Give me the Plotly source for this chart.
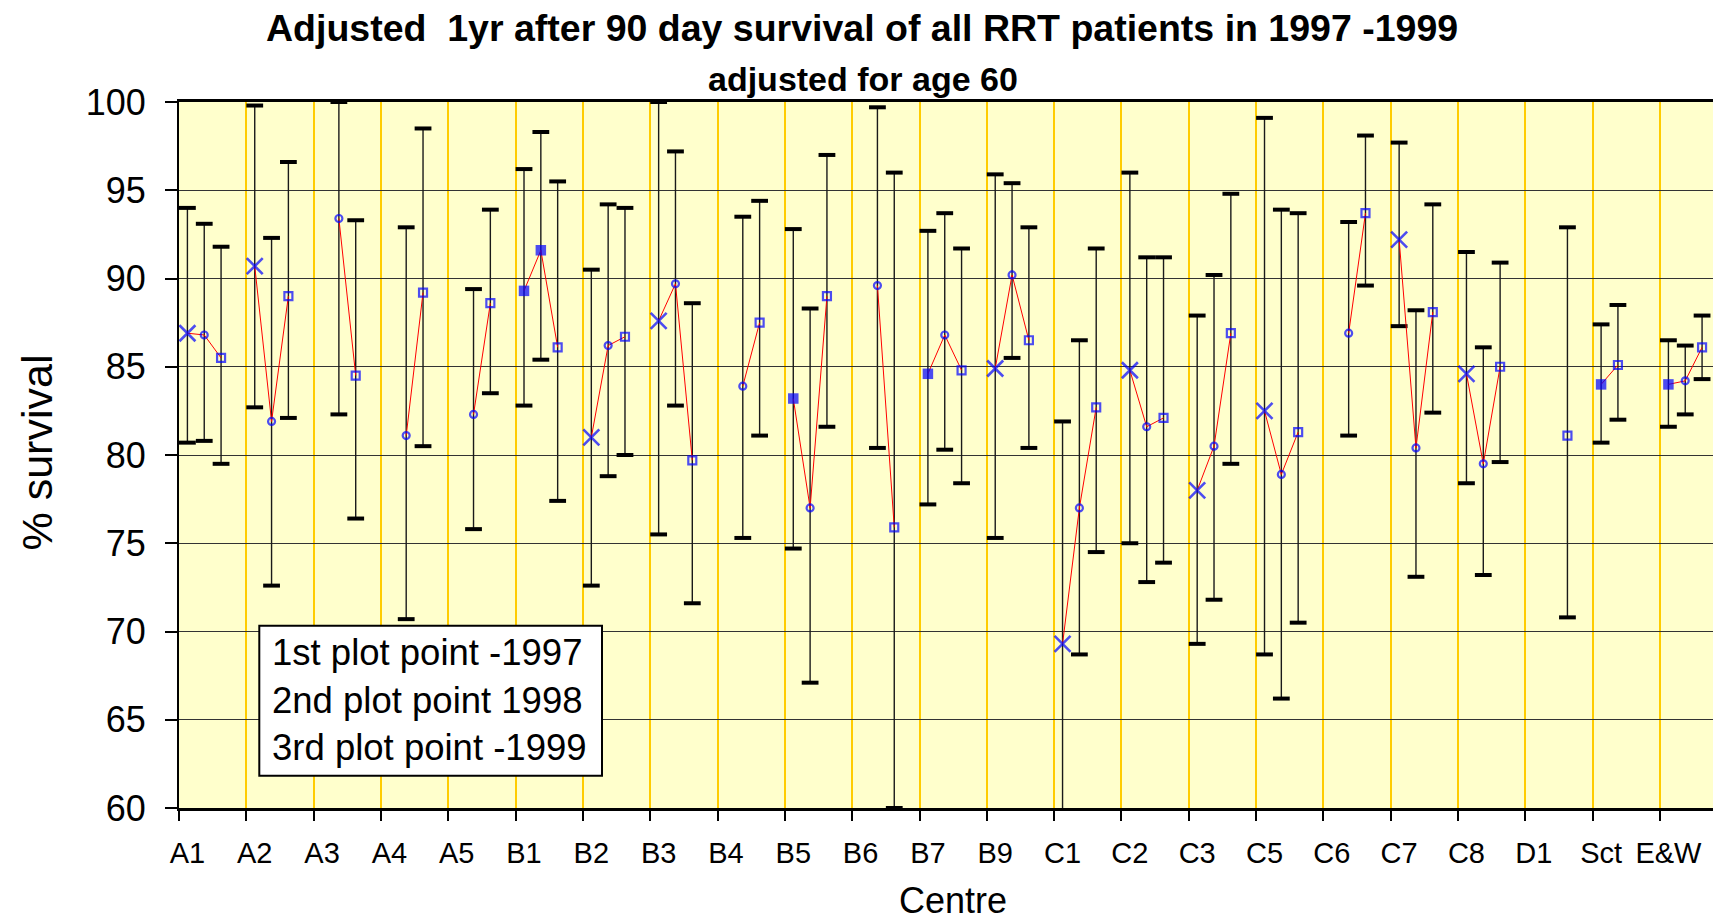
import plotly.graph_objects as go

centres = ["A1", "A2", "A3", "A4", "A5", "B1", "B2", "B3", "B4", "B5", "B6", "B7",
           "B9", "C1", "C2", "C3", "C5", "C6", "C7", "C8", "D1", "Sct", "E&W"]

surv_1997 = [86.9, 90.7, None, None, None, 89.3, 81.0, 87.6, None, 83.2, None, 84.6,
             84.9, 69.3, 84.8, 78.0, 82.5, None, 92.2, 84.6, None, 84.0, 84.0]
lo_1997 = [80.7, 82.7, None, None, None, 82.8, 72.6, 75.5, None, 74.7, None, 77.2,
           75.3, 56.0, 75.0, 69.3, 68.7, None, 87.3, 78.4, None, 80.7, 81.6]
hi_1997 = [94.0, 99.8, None, None, None, 96.2, 90.5, 100.0, None, 92.8, None, 92.7,
           95.9, 81.9, 96.0, 87.9, 99.1, None, 97.7, 91.5, None, 87.4, 86.5]

surv_1998 = [86.8, 81.9, 93.4, 81.1, 82.3, 91.6, 86.2, 89.7, 83.9, 77.0, 89.6, 86.8,
             90.2, 77.0, 81.6, 80.5, 78.9, 86.9, 80.4, 79.5, None, 85.1, 84.2]
lo_1998 = [80.8, 72.6, 82.3, 70.7, 75.8, 85.4, 78.8, 82.8, 75.3, 67.1, 80.4, 80.3,
           85.5, 68.7, 72.8, 71.8, 66.2, 81.1, 73.1, 73.2, None, 82.0, 82.3]
hi_1998 = [93.1, 92.3, 100.0, 92.9, 89.4, 98.3, 94.2, 97.2, 93.5, 88.3, 99.7, 93.7,
           95.4, 86.5, 91.2, 90.2, 93.9, 93.2, 88.2, 86.1, None, 88.5, 86.2]

surv_1999 = [85.5, 89.0, 84.5, 89.2, 88.6, 86.1, 86.7, 79.7, 87.5, 89.0, 75.9, 84.8,
             86.5, 82.7, 82.1, 86.9, 81.3, 93.7, 88.1, 85.0, 81.1, None, 86.1]
lo_1999 = [79.5, 82.1, 76.4, 80.5, 83.5, 77.4, 80.0, 71.6, 81.1, 81.6, 60.0, 78.4,
           80.4, 74.5, 73.9, 79.5, 70.5, 89.6, 82.4, 79.6, 70.8, None, 84.3]
hi_1999 = [91.8, 96.6, 93.3, 98.5, 93.9, 95.5, 94.0, 88.6, 94.4, 97.0, 96.0, 91.7,
           92.9, 91.7, 91.2, 94.8, 93.7, 98.1, 94.2, 90.9, 92.9, None, 87.9]

# marker codes: X = cross, o = open circle, s = open square, S = filled square
mark_1997 = ["X", "X", None, None, None, "S", "X", "X", None, "S", None, "S",
             "X", "X", "X", "X", "X", None, "X", "X", None, "S", "S"]
mark_1998 = ["o", "o", "o", "o", "o", "S", "o", "o", "o", "o", "o", "o",
             "o", "o", "o", "o", "o", "o", "o", "o", None, "s", "o"]
mark_1999 = ["s"] * 23

legend_lines = ["1st plot point -1997", "2nd plot point 1998", "3rd plot point -1999"]

years = [(surv_1997, lo_1997, hi_1997, mark_1997),
         (surv_1998, lo_1998, hi_1998, mark_1998),
         (surv_1999, lo_1999, hi_1999, mark_1999)]

SLOTS = 4  # three years + one blank slot per centre

sym_map = {"X": "x-thin-open", "o": "circle-open", "s": "square-open", "S": "square"}
size_map = {"X": 16, "o": 7, "s": 8, "S": 10.5}
lw_map = {"X": 2.6, "o": 2.2, "s": 2.2, "S": 0}

err_x, err_y = [], []
cap_x, cap_y = [], []
line_x, line_y = [], []
pt_x, pt_y, pt_sym, pt_size, pt_lw = [], [], [], [], []

for g, name in enumerate(centres):
    for k, (sv, lo, hi, mk) in enumerate(years):
        v = sv[g]
        if v is None:
            continue
        x = g * SLOTS + k
        err_x += [x, x, None]
        err_y += [lo[g], hi[g], None]
        for c in (lo[g], hi[g]):
            if 60 <= c <= 100:
                cap_x.append(x)
                cap_y.append(c)
        line_x.append(x)
        line_y.append(v)
        pt_x.append(x)
        pt_y.append(v)
        pt_sym.append(sym_map[mk[g]])
        pt_size.append(size_map[mk[g]])
        pt_lw.append(lw_map[mk[g]])
    line_x.append(None)
    line_y.append(None)

fig = go.Figure()
fig.add_trace(go.Scatter(x=err_x, y=err_y, mode="lines",
                         line=dict(color="#1a1a1a", width=1.4),
                         hoverinfo="skip", showlegend=False))
fig.add_trace(go.Scatter(x=cap_x, y=cap_y, mode="markers", cliponaxis=False,
                         marker=dict(symbol="line-ew", size=12,
                                     line=dict(color="black", width=4)),
                         hoverinfo="skip", showlegend=False))
fig.add_trace(go.Scatter(x=line_x, y=line_y, mode="lines",
                         line=dict(color="red", width=1),
                         hoverinfo="skip", showlegend=False))
fig.add_trace(go.Scatter(x=pt_x, y=pt_y, mode="markers",
                         marker=dict(symbol=pt_sym, size=pt_size, color="#0000FF",
                                     line=dict(color="#0000FF", width=pt_lw)),
                         showlegend=False))

FONT = "Liberation Sans, Arial, sans-serif"
L, R, T, B = 179, 0, 102, 113
W, H = 1713, 921
PW, PH = W - L - R, H - T - B


def px(xp):
    return (xp - L) / PW


def py(yp):
    return (H - B - yp) / PH


boundaries = [g * SLOTS - 0.5 for g in range(len(centres))]
slot_px = (1660 - 179) / 88

fig.update_layout(
    width=W, height=H,
    margin=dict(l=L, r=R, t=T, b=B),
    paper_bgcolor="white",
    plot_bgcolor="#FFFFCC",
    font=dict(family=FONT, color="black"),
    xaxis=dict(
        range=[-0.5, -0.5 + (W - L) / slot_px],
        tickvals=[g * SLOTS for g in range(len(centres))],
        ticktext=centres,
        ticks="", showgrid=False, zeroline=False,
        tickfont=dict(size=29),
        ticklabelstandoff=17,
        showline=True, linecolor="black", linewidth=2.5, mirror=True,
        minor=dict(tickvals=boundaries, ticks="outside", ticklen=10,
                   tickcolor="black", tickwidth=1.5,
                   showgrid=True, gridcolor="#FFCC00", gridwidth=1.5),
    ),
    yaxis=dict(
        range=[60, 100], tickvals=list(range(60, 101, 5)),
        ticks="outside", ticklen=12, tickcolor="black", tickwidth=1.5,
        tickfont=dict(size=36), ticklabelstandoff=12,
        showgrid=True, gridcolor="#333333", gridwidth=1.3, zeroline=False,
        showline=True, linecolor="black", linewidth=2,
    ),
    shapes=[dict(type="rect", xref="paper", yref="paper",
                 x0=px(259.3), x1=px(602), y0=py(775.7), y1=py(625.7),
                 fillcolor="white", line=dict(color="black", width=2), layer="above")],
)

annotations = [
    dict(text="<b>Adjusted  1yr after 90 day survival of all RRT patients in 1997 -1999</b>",
         x=px(862), y=py(28), xanchor="center", yanchor="middle",
         font=dict(size=37.5)),
    dict(text="<b>adjusted for age 60</b>", x=px(863), y=py(78.5),
         xanchor="center", yanchor="middle", font=dict(size=34)),
    dict(text="Centre", x=px(953), y=py(900.5), xanchor="center", yanchor="middle",
         font=dict(size=36)),
    dict(text="% survival", x=px(36), y=py(452.5), xanchor="center", yanchor="middle",
         textangle=-90, font=dict(size=43)),
]
for i, t in enumerate(legend_lines):
    annotations.append(dict(text=t, x=px(270), y=py(652.7 + i * 47.5),
                            xanchor="left", yanchor="middle", font=dict(size=36.5)))
for a in annotations:
    a.update(xref="paper", yref="paper", showarrow=False)
fig.update_layout(annotations=annotations)

fig.write_html(
    "out.html",
    config={"displayModeBar": False},
    post_script="document.body.style.margin='0px';"
                "document.documentElement.style.overflow='hidden';"
                "document.body.style.overflow='hidden';",
)
